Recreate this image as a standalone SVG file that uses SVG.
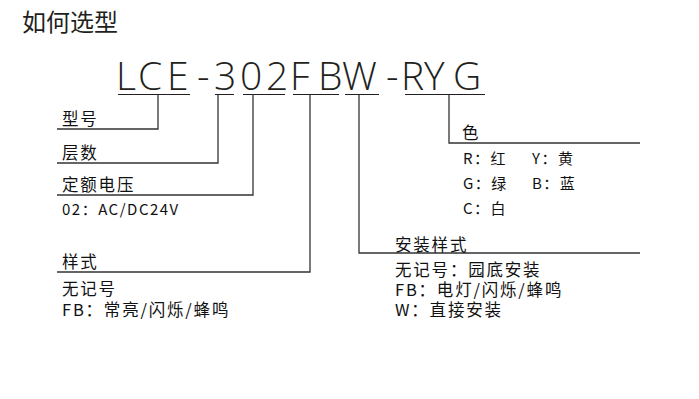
<svg xmlns="http://www.w3.org/2000/svg" width="699" height="399" viewBox="0 0 699 399">
<style>
.title{font-family:"Noto Sans CJK SC","Noto Sans",sans-serif;font-size:24px;fill:#231f20}
.code{font-family:"Open Sans","Noto Sans",sans-serif;font-weight:300;font-size:39px;fill:#231f20}
.lbl{font-family:"Noto Sans CJK SC","Noto Sans",sans-serif;font-size:16.5px;letter-spacing:1.8px;fill:#111}
.sub{font-family:"Noto Sans CJK SC","Noto Sans",sans-serif;font-size:15px;letter-spacing:1.5px;fill:#111}
.ln{stroke:#333;stroke-width:1.3;fill:none}
.ul{stroke:#231f20;stroke-width:1;fill:none}
</style>
<rect width="699" height="399" fill="#fff"/>
<text class="title" x="22" y="31">如何选型</text>
<g id="code">
<text class="code" x="116 138 167 197 214 240 266 290 318 342 386 401 424 453" y="90">LCE-302FBW-RYG</text>
</g>
<g id="connectors">
<path class="ul" d="M118 94.5H190M215 94.5H234M243 94.5H285M293 94.5H339M345 94.5H379M405 94.5H485"/>
<path class="ln" d="M158 94.5V129H57"/>
<path class="ln" d="M218 94.5V163H57"/>
<path class="ln" d="M253 94.5V195H57"/>
<path class="ln" d="M310 94.5V272H57"/>
<path class="ln" d="M359 94.5V253H640"/>
<path class="ln" d="M449 94.5V143H640"/>
</g>
<g id="node-model"><text class="lbl" x="62" y="125">型号</text></g>
<g id="node-layers"><text class="lbl" x="62" y="158.5">层数</text></g>
<g id="node-voltage"><text class="lbl" x="62" y="191">定额电压</text><text class="sub" x="62" y="215">02：AC/DC24V</text></g>
<g id="node-style"><text class="lbl" x="62" y="268">样式</text><text class="lbl" x="62" y="295">无记号</text><text class="lbl" x="62" y="316">FB：常亮/闪烁/蜂鸣</text></g>
<g id="node-color"><text class="lbl" x="462" y="139">色</text>
<text class="sub" x="463" y="164">R：红</text><text class="sub" x="532" y="164">Y：黄</text>
<text class="sub" x="463" y="189">G：绿</text><text class="sub" x="532" y="189">B：蓝</text>
<text class="sub" x="463" y="214">C：白</text></g>
<g id="node-mount"><text class="lbl" x="395" y="251">安装样式</text><text class="lbl" x="395" y="276">无记号：园底安装</text><text class="lbl" x="395" y="296">FB：电灯/闪烁/蜂鸣</text><text class="lbl" x="395" y="316">W：直接安装</text></g>
</svg>
